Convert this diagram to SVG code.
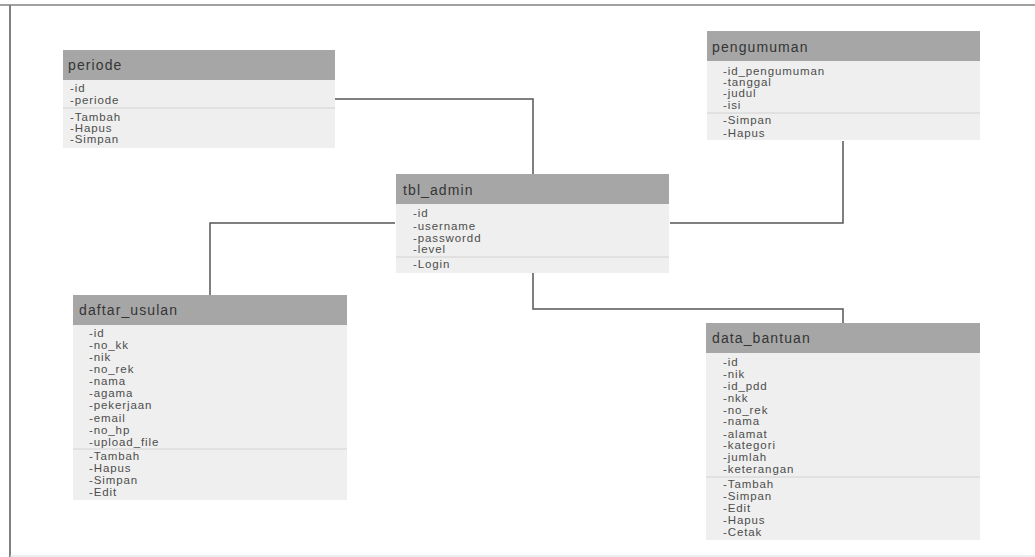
<svg xmlns="http://www.w3.org/2000/svg" width="1035" height="557" viewBox="0 0 1035 557">
<style>
.body{fill:#efefef}
.head{fill:#a6a6a6}
.sep{stroke:#d2d2d2;stroke-width:1}
.ht{font-family:"Liberation Sans",Arial,sans-serif;font-size:14px;letter-spacing:1.1px;fill:#353535}
.t{font-family:"Liberation Sans",Arial,sans-serif;font-size:11.5px;letter-spacing:0.9px;fill:#4d4d4d}
.conn{fill:none;stroke:#555;stroke-width:1.5}
.frame{stroke:#808080;fill:none}
</style>
<rect x="0" y="0" width="1035" height="557" fill="#ffffff"/>
<line class="frame" x1="0" y1="5" x2="1035" y2="5" stroke-width="1.5"/>
<line class="frame" x1="10" y1="5" x2="10" y2="557" stroke-width="2"/>
<line x1="10" y1="556" x2="1035" y2="556" stroke="#dddddd" stroke-width="1"/>

<g id="connectors">
<polyline class="conn" points="335,99 533,99 533,175"/>
<polyline class="conn" points="843,141 843,223 670,223"/>
<polyline class="conn" points="395,223 210,223 210,295"/>
<polyline class="conn" points="533,273 533,309 843,309 843,323"/>
</g>

<g id="periode">
<rect class="body" x="63" y="50" width="272" height="98"/>
<rect class="head" x="63" y="50" width="272" height="30"/>
<text class="ht" x="68" y="70">periode</text>
<text class="t" x="70" y="92">-id</text>
<text class="t" x="70" y="104">-periode</text>
<line class="sep" x1="63" y1="108" x2="335" y2="108"/>
<text class="t" x="70" y="121">-Tambah</text>
<text class="t" x="70" y="132">-Hapus</text>
<text class="t" x="70" y="143">-Simpan</text>
</g>

<g id="pengumuman">
<rect class="body" x="707" y="31" width="273" height="109"/>
<rect class="head" x="707" y="31" width="273" height="30"/>
<text class="ht" x="712" y="52">pengumuman</text>
<text class="t" x="723" y="75">-id_pengumuman</text>
<text class="t" x="723" y="86">-tanggal</text>
<text class="t" x="723" y="97">-judul</text>
<text class="t" x="723" y="109">-isi</text>
<line class="sep" x1="707" y1="113" x2="980" y2="113"/>
<text class="t" x="723" y="124">-Simpan</text>
<text class="t" x="723" y="137">-Hapus</text>
</g>

<g id="tbl_admin">
<rect class="body" x="396" y="174" width="273" height="99"/>
<rect class="head" x="396" y="174" width="273" height="30"/>
<text class="ht" x="403" y="195">tbl_admin</text>
<text class="t" x="413" y="217">-id</text>
<text class="t" x="413" y="230">-username</text>
<text class="t" x="413" y="242">-passwordd</text>
<text class="t" x="413" y="253">-level</text>
<line class="sep" x1="396" y1="257" x2="669" y2="257"/>
<text class="t" x="413" y="268">-Login</text>
</g>

<g id="daftar_usulan">
<rect class="body" x="73" y="295" width="274" height="205"/>
<rect class="head" x="73" y="295" width="274" height="30"/>
<text class="ht" x="79" y="315">daftar_usulan</text>
<text class="t" x="89" y="337">-id</text>
<text class="t" x="89" y="349">-no_kk</text>
<text class="t" x="89" y="361">-nik</text>
<text class="t" x="89" y="373">-no_rek</text>
<text class="t" x="89" y="385">-nama</text>
<text class="t" x="89" y="397">-agama</text>
<text class="t" x="89" y="409">-pekerjaan</text>
<text class="t" x="89" y="422">-email</text>
<text class="t" x="89" y="434">-no_hp</text>
<text class="t" x="89" y="446">-upload_file</text>
<line class="sep" x1="73" y1="449" x2="347" y2="449"/>
<text class="t" x="89" y="460">-Tambah</text>
<text class="t" x="89" y="472">-Hapus</text>
<text class="t" x="89" y="484">-Simpan</text>
<text class="t" x="89" y="496">-Edit</text>
</g>

<g id="data_bantuan">
<rect class="body" x="706" y="323" width="274" height="217"/>
<rect class="head" x="706" y="323" width="274" height="30"/>
<text class="ht" x="712" y="343">data_bantuan</text>
<text class="t" x="723" y="366">-id</text>
<text class="t" x="723" y="378">-nik</text>
<text class="t" x="723" y="390">-id_pdd</text>
<text class="t" x="723" y="402">-nkk</text>
<text class="t" x="723" y="414">-no_rek</text>
<text class="t" x="723" y="425">-nama</text>
<text class="t" x="723" y="438">-alamat</text>
<text class="t" x="723" y="449">-kategori</text>
<text class="t" x="723" y="461">-jumlah</text>
<text class="t" x="723" y="473">-keterangan</text>
<line class="sep" x1="706" y1="477" x2="980" y2="477"/>
<text class="t" x="723" y="488">-Tambah</text>
<text class="t" x="723" y="500">-Simpan</text>
<text class="t" x="723" y="512">-Edit</text>
<text class="t" x="723" y="524">-Hapus</text>
<text class="t" x="723" y="536">-Cetak</text>
</g>
</svg>
